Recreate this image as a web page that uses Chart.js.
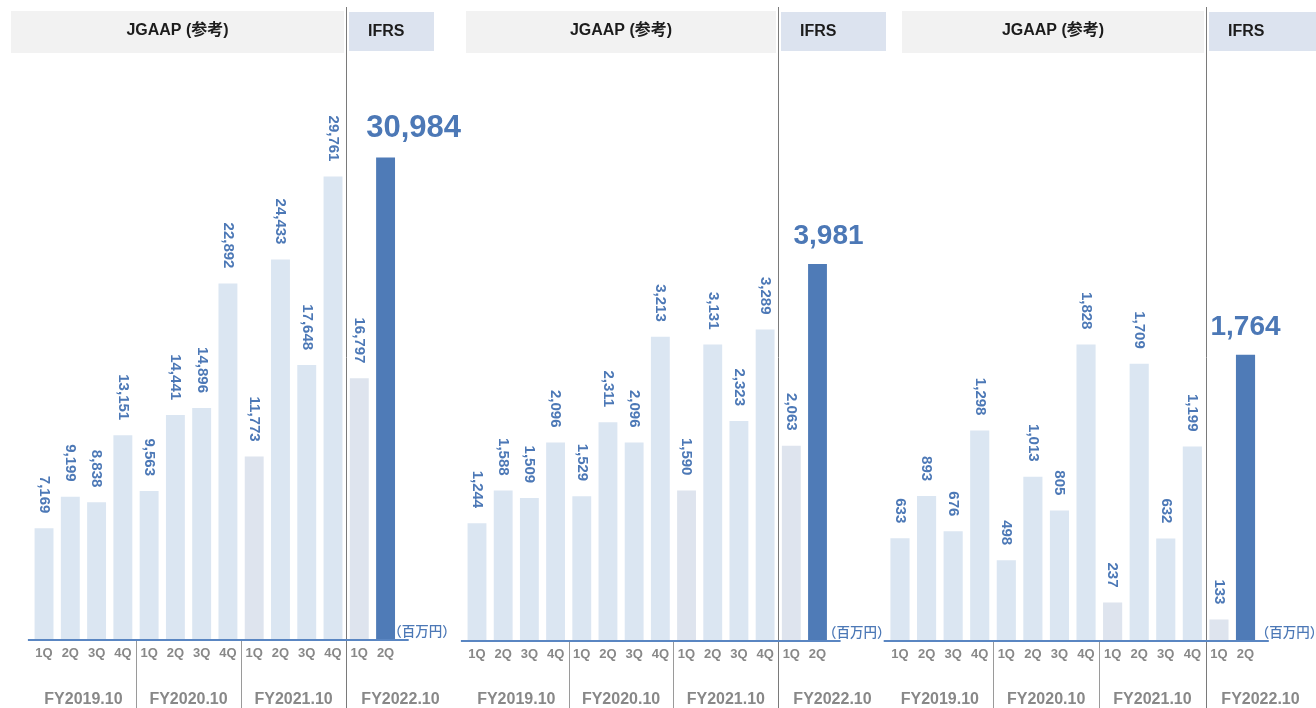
<!DOCTYPE html>
<html>
<head>
<meta charset="utf-8">
<script src="https://cdn.jsdelivr.net/npm/chart.js@4.4.1/dist/chart.umd.min.js"></script>
<style>
  html, body { margin: 0; padding: 0; background: #ffffff; }
  body { width: 1316px; height: 708px; position: relative; overflow: hidden; }
  canvas { position: absolute; top: 0; }
</style>
</head>
<body>
<canvas id="panelSales" width="470" height="708" style="left:0px"></canvas>
<canvas id="panelOperating" width="436" height="708" style="left:455px"></canvas>
<canvas id="panelNet" width="436" height="708" style="left:880px"></canvas>

<script>
// ---- data ----
const quarters = ['1Q', '2Q', '3Q', '4Q', '1Q', '2Q', '3Q', '4Q', '1Q', '2Q', '3Q', '4Q', '1Q', '2Q'];
const fiscalYears = ['FY2019.10', 'FY2020.10', 'FY2021.10', 'FY2022.10'];
const salesValues = [7169, 9199, 8838, 13151, 9563, 14441, 14896, 22892, 11773, 24433, 17648, 29761, 16797, 30984];
const operatingValues = [1244, 1588, 1509, 2096, 1529, 2311, 2096, 3213, 1590, 3131, 2323, 3289, 2063, 3981];
const netValues = [633, 893, 676, 1298, 498, 1013, 805, 1828, 237, 1709, 632, 1199, 133, 1764];
const standardLabels = ['JGAAP (参考)', 'IFRS'];
const unitText = '（百万円）';

// ---- style ----
const FONT = '"Liberation Sans", Arial, "Noto Sans CJK JP", sans-serif';
const CJK_FONT = '"Noto Sans CJK JP", "Liberation Sans", sans-serif';
const LIGHT = '#dbe6f2';
const MUTED = '#dee4ee';
const DARK = '#4f7bb7';
const LABEL_BLUE = '#4c78b6';
const GRAY_TEXT = '#888888';

// groups of quarters, a new fiscal year starts at every '1Q'
const groupStarts = quarters.map((q, i) => q === '1Q' ? i : -1).filter(i => i >= 0);
const ifrsStart = groupStarts[groupStarts.length - 1];

function barColors(n) {
  return quarters.map((q, i) => {
    if (i === n - 1) return DARK;
    if (i === groupStarts[2] || i === groupStarts[3]) return MUTED;
    return LIGHT;
  });
}

function ifrsSeparator(xs) {
  return Math.round((xs.getPixelForValue(ifrsStart - 1) + xs.getPixelForValue(ifrsStart)) / 2) + 0.5;
}

const decorPlugin = {
  id: 'panelDecor',
  beforeDatasetsDraw(chart, args, o) {
    const ctx = chart.ctx;
    const xs = chart.scales.x;
    const off = o.canvasLeft;
    const sepX = ifrsSeparator(xs);
    ctx.save();
    // header boxes
    const jl = o.headerLeft - off;
    ctx.fillStyle = '#f2f2f2';
    ctx.fillRect(jl, 11, sepX - 2.5 - jl, 42);
    const il = sepX + 2.5;
    ctx.fillStyle = '#dce3ef';
    ctx.fillRect(il, 12, o.headerRight - off - il, 39);
    ctx.fillStyle = '#1c1c1c';
    ctx.font = 'bold 16px ' + FONT;
    ctx.textBaseline = 'middle';
    ctx.textAlign = 'center';
    ctx.fillText(standardLabels[0], (jl + sepX - 2.5) / 2, 31);
    ctx.textAlign = 'left';
    ctx.fillText(standardLabels[1], il + 19, 32);
    ctx.restore();
  },
  afterDatasetsDraw(chart, args, o) {
    const ctx = chart.ctx;
    const xs = chart.scales.x;
    const ys = chart.scales.y;
    const ca = chart.chartArea;
    const values = chart.data.datasets[0].data;
    const base = ca.bottom;
    const sepX = ifrsSeparator(xs);
    ctx.save();

    // fiscal year separators
    groupStarts.forEach((g, k) => {
      if (k === 0) return;
      const sx = Math.round((xs.getPixelForValue(g - 1) + xs.getPixelForValue(g)) / 2) + 0.5;
      ctx.beginPath();
      if (g === ifrsStart) {
        ctx.strokeStyle = '#7a7a7a';
        ctx.moveTo(sx, 7);
      } else {
        ctx.strokeStyle = '#9a9a9a';
        ctx.moveTo(sx, base);
      }
      ctx.lineTo(sx, 708);
      ctx.lineWidth = 1;
      ctx.stroke();
    });

    // baseline
    ctx.fillStyle = '#5a86c2';
    ctx.fillRect(ca.left - 3, base - 1, ca.right - ca.left + 13, 2);

    // quarter labels
    ctx.fillStyle = GRAY_TEXT;
    ctx.font = 'bold 13px ' + FONT;
    ctx.textAlign = 'center';
    ctx.textBaseline = 'middle';
    quarters.forEach((q, i) => ctx.fillText(q, xs.getPixelForValue(i), base + 13));

    // fiscal year labels
    ctx.font = 'bold 16px ' + FONT;
    groupStarts.forEach((g, k) => {
      let cx;
      if (g === ifrsStart) {
        cx = sepX + 54;
      } else {
        const end = groupStarts[k + 1] - 1;
        cx = (xs.getPixelForValue(g) + xs.getPixelForValue(end)) / 2;
      }
      ctx.fillText(fiscalYears[k], cx, 700);
    });

    // unit
    ctx.fillStyle = LABEL_BLUE;
    ctx.font = '500 13.5px ' + CJK_FONT;
    ctx.textAlign = 'left';
    ctx.fillText(unitText, ca.right + o.unitDx, base - 9);

    // value labels
    const fmt = v => v.toLocaleString('en-US');
    values.forEach((v, i) => {
      const cx = xs.getPixelForValue(i);
      const top = ys.getPixelForValue(v);
      if (i === values.length - 1) {
        ctx.font = 'bold ' + o.bigSize + 'px ' + FONT;
        ctx.textAlign = 'center';
        ctx.textBaseline = 'alphabetic';
        ctx.fillText(fmt(v), cx + o.bigDx, top - 20);
      } else {
        ctx.save();
        ctx.translate(cx, top - 15);
        ctx.rotate(Math.PI / 2);
        ctx.font = 'bold 15px ' + FONT;
        ctx.textAlign = 'right';
        ctx.textBaseline = 'middle';
        ctx.fillText(fmt(v), 0, 0);
        ctx.restore();
      }
    });
    ctx.restore();
  }
};

function makePanel(id, values, cfg) {
  return new Chart(document.getElementById(id), {
    type: 'bar',
    data: {
      labels: quarters,
      datasets: [{
        data: values,
        backgroundColor: barColors(values.length),
        borderWidth: 0,
        barPercentage: 0.72,
        categoryPercentage: 1
      }]
    },
    options: {
      responsive: false,
      animation: false,
      devicePixelRatio: 1,
      layout: { padding: cfg.padding },
      plugins: {
        legend: { display: false },
        tooltip: { enabled: false },
        panelDecor: cfg.decor
      },
      scales: {
        x: { display: false, offset: true },
        y: { display: false, min: 0, max: cfg.yMax }
      }
    },
    plugins: [decorPlugin]
  });
}

makePanel('panelSales', salesValues, {
  padding: { left: 30.9, right: 71.3, top: 60, bottom: 68 },
  yMax: 37236,
  decor: { canvasLeft: 0, headerLeft: 11, headerRight: 434, bigSize: 31, bigDx: 28, unitDx: -10.5 }
});
makePanel('panelOperating', operatingValues, {
  padding: { left: 8.9, right: 60.4, top: 60, bottom: 67 },
  yMax: 6135,
  decor: { canvasLeft: 455, headerLeft: 466, headerRight: 886, bigSize: 28, bigDx: 11, unitDx: -7.5 }
});
makePanel('panelNet', netValues, {
  padding: { left: 6.7, right: 57.2, top: 60, bottom: 67 },
  yMax: 3581,
  decor: { canvasLeft: 880, headerLeft: 902, headerRight: 1316, bigSize: 28, bigDx: 0, unitDx: -3 }
});
</script>
</body>
</html>
